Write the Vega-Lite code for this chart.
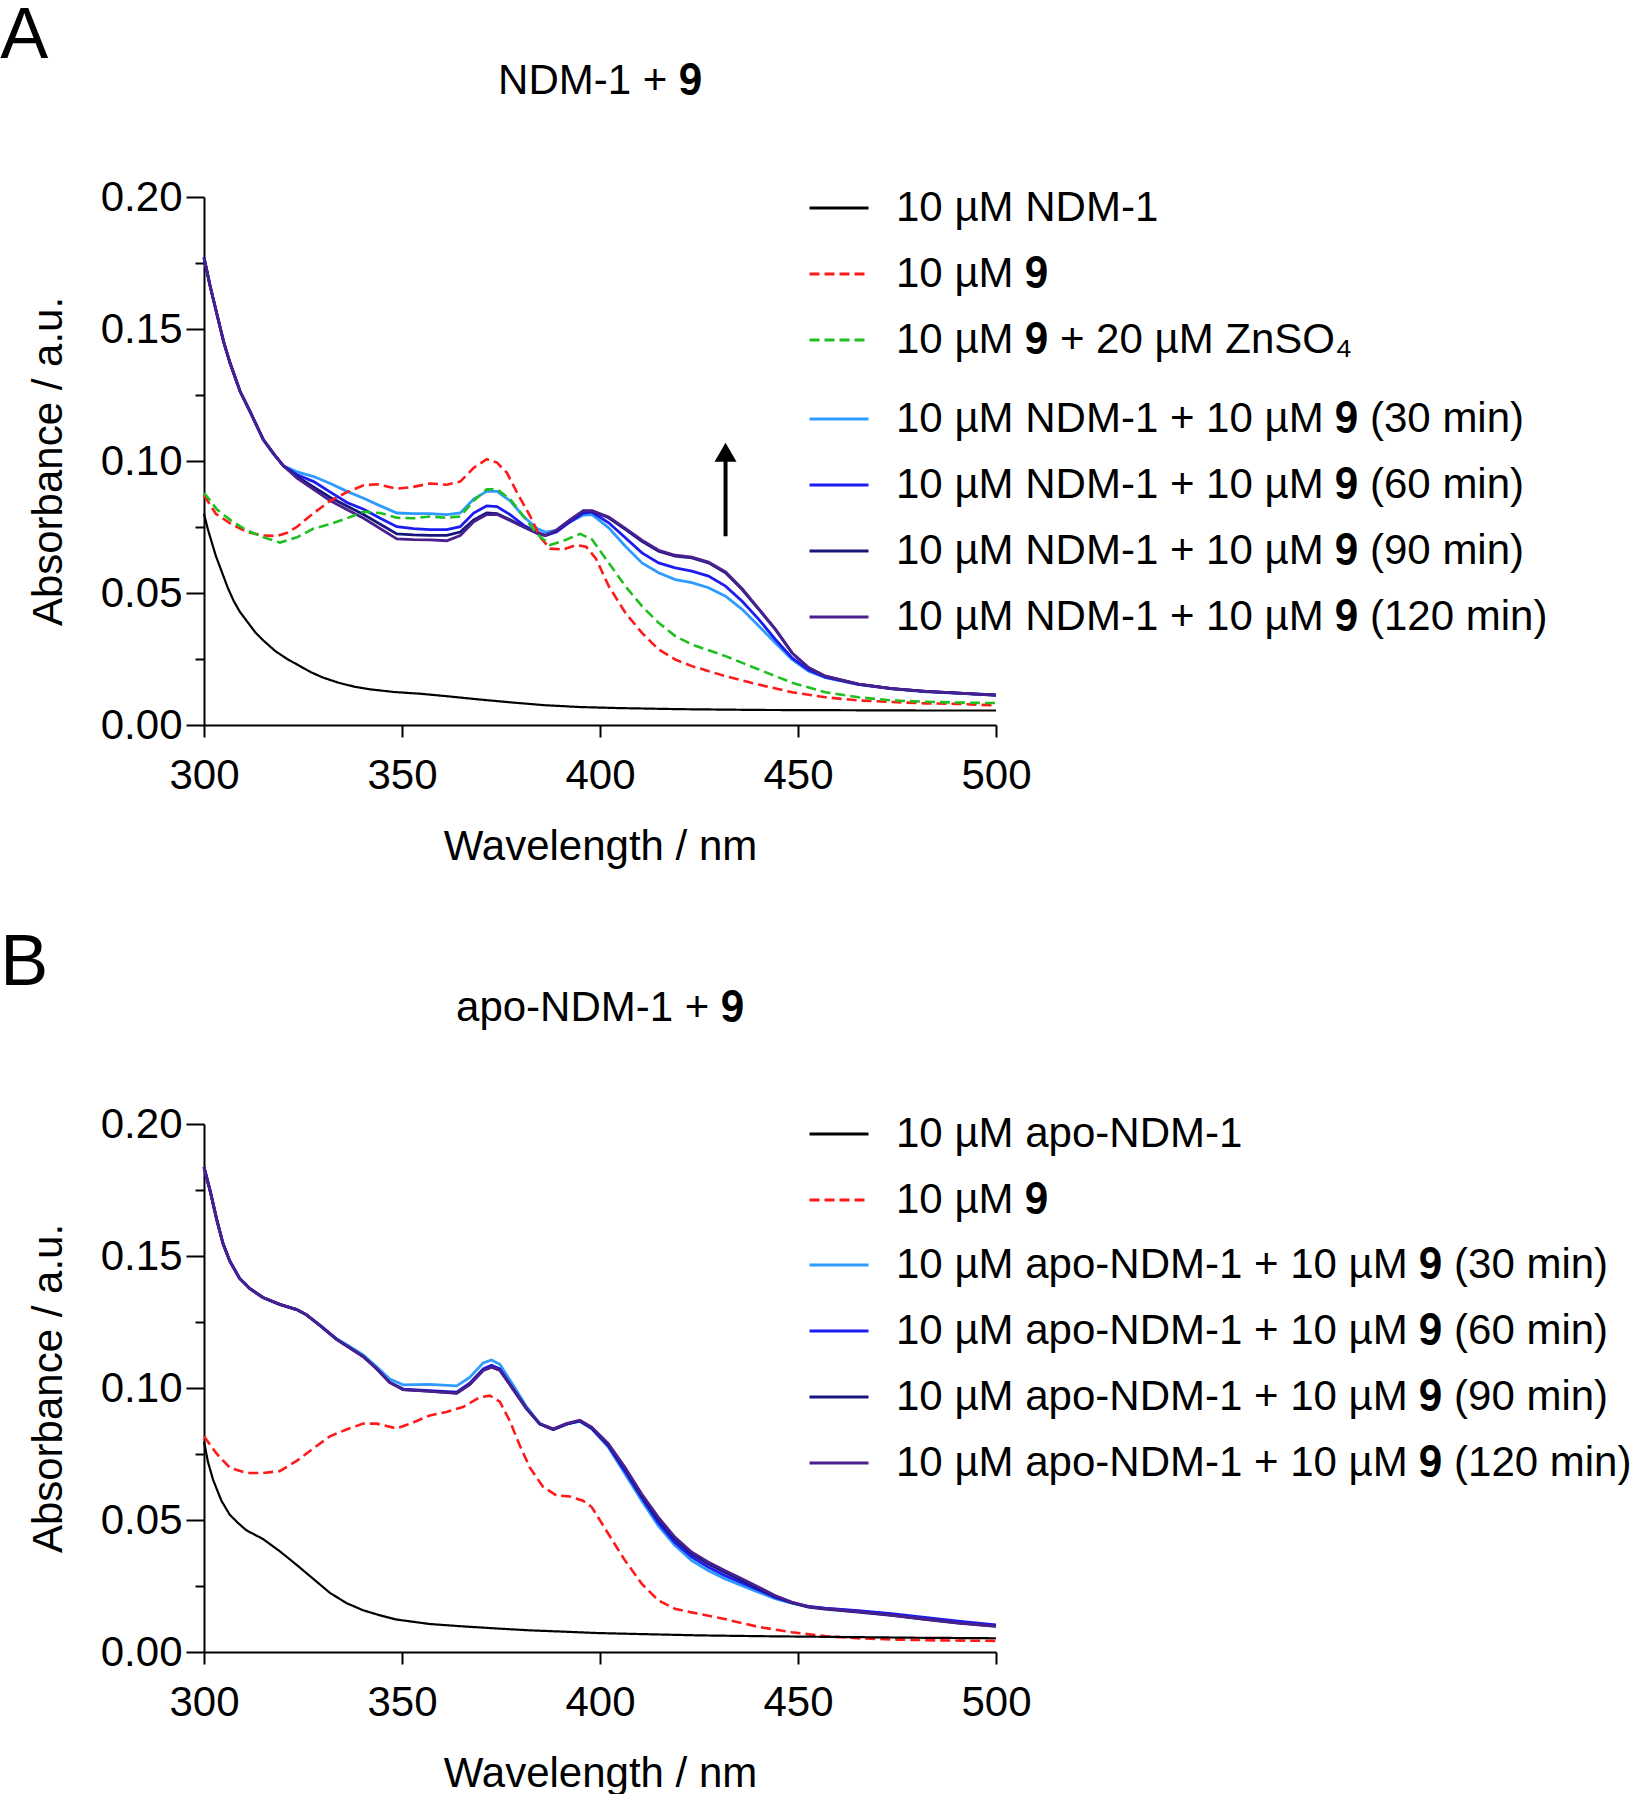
{
"$schema": "https://vega.github.io/schema/vega-lite/v6.json",
"padding": 0,
"background": "white",
"config": {
  "font": "Liberation Sans",
  "view": {"stroke": null},
  "axis": {"domainColor": "black", "domainWidth": 2, "tickColor": "black", "tickWidth": 2, "labelColor": "black", "labelFontSize": 42, "titleFontSize": 42, "titleFontWeight": "normal", "titleColor": "black", "grid": false, "labelFont": "Liberation Sans", "titleFont": "Liberation Sans", "labelFlush": false, "labelOverlap": false},
  "title": {"fontSize": 42, "fontWeight": "normal", "color": "black", "font": "Liberation Sans"},
  "legend": {"symbolType": "stroke", "symbolSize": 3481, "symbolStrokeWidth": 3, "labelFontSize": 42, "labelFont": "Liberation Sans", "labelColor": "black", "rowPadding": 14, "labelOffset": 26, "padding": 0, "labelLimit": 2000},
  "line": {"strokeWidth": 2.8}
},
"spacing": 60,
"resolve": {"scale": {"x": "independent", "y": "independent", "color": "independent", "stroke": "independent", "strokeDash": "independent"}},
"vconcat": [
{
  "title": {"text": "A", "anchor": "start", "fontSize": 72, "frame": "bounds", "dx": -27, "offset": -13},
  "resolve": {"scale": {"color": "independent", "stroke": "independent", "strokeDash": "independent"}},
  "vconcat": [
  {
    "title": {"text": "NDM-1 + 𝟗", "anchor": "middle", "frame": "group", "offset": 73},
    "width": 792, "height": 528,
    "encoding": {"x": {"field": "w", "type": "quantitative", "scale": {"domain": [300, 500], "nice": false, "zero": false}, "axis": {"values": [300, 350, 400, 450, 500], "title": "Wavelength / nm", "tickSize": 12, "labelPadding": 18, "titlePadding": 30}}},
    "resolve": {"axis": {"y": "independent"}},
    "layer": [
    {
      "encoding": {"y": {"field": "a", "type": "quantitative", "scale": {"domain": [0, 0.2], "nice": false, "zero": false}, "axis": {"values": [0, 0.05, 0.1, 0.15, 0.2], "format": ".2f", "title": "Absorbance / a.u.", "tickSize": 18, "labelPadding": 4, "titlePadding": 30}}},
      "layer": [
      {
        "data": {"values": [{"w":300,"a":0.1771},{"w":301.6,"a":0.1659},{"w":303.3,"a":0.1554},{"w":305,"a":0.1449},{"w":306.6,"a":0.137},{"w":309.1,"a":0.1264},{"w":311.7,"a":0.1185},{"w":315,"a":0.108},{"w":317.6,"a":0.1027},{"w":320.1,"a":0.0981},{"w":323.5,"a":0.0959},{"w":327.7,"a":0.0941},{"w":331.9,"a":0.0915},{"w":336.1,"a":0.0885},{"w":340.3,"a":0.0859},{"w":344.5,"a":0.083},{"w":348.7,"a":0.0803},{"w":352.9,"a":0.0801},{"w":357.1,"a":0.0801},{"w":361.3,"a":0.0797},{"w":364.7,"a":0.0803},{"w":368.1,"a":0.0856},{"w":371.4,"a":0.0885},{"w":374,"a":0.0885},{"w":377.3,"a":0.0849},{"w":380.7,"a":0.079},{"w":384.1,"a":0.0744},{"w":386.2,"a":0.0731},{"w":389,"a":0.0737},{"w":392.5,"a":0.077},{"w":395.8,"a":0.0795},{"w":398,"a":0.0797},{"w":402.2,"a":0.0747},{"w":406.4,"a":0.0677},{"w":410.6,"a":0.0614},{"w":414.8,"a":0.0577},{"w":419,"a":0.0551},{"w":423.2,"a":0.0539},{"w":427.4,"a":0.052},{"w":431.7,"a":0.0488},{"w":435.9,"a":0.0438},{"w":440.1,"a":0.0375},{"w":444.3,"a":0.0311},{"w":448.5,"a":0.0248},{"w":452.7,"a":0.0204},{"w":456.9,"a":0.0179},{"w":465.3,"a":0.0153},{"w":473.7,"a":0.0137},{"w":482.2,"a":0.0126},{"w":490.6,"a":0.012},{"w":500,"a":0.0113}]},
        "mark": {"type": "line", "strokeWidth": 2.8},
        "encoding": {"stroke": {"datum": "10 µM NDM-1 + 10 µM 𝟗 (30 min)", "scale": {"domain": ["10 µM NDM-1 + 10 µM 𝟗 (30 min)", "10 µM NDM-1 + 10 µM 𝟗 (60 min)", "10 µM NDM-1 + 10 µM 𝟗 (90 min)", "10 µM NDM-1 + 10 µM 𝟗 (120 min)"], "range": ["#2f9bff", "#1c1cf2", "#16167d", "#4a208f"]}, "legend": {"orient": "none", "legendX": 604, "legendY": 191, "title": null}}}
      },
      {
        "data": {"values": [{"w":300,"a":0.1771},{"w":301.6,"a":0.1659},{"w":303.3,"a":0.1554},{"w":305,"a":0.1449},{"w":306.6,"a":0.137},{"w":309.1,"a":0.1264},{"w":311.7,"a":0.1185},{"w":315,"a":0.108},{"w":317.6,"a":0.1027},{"w":320.1,"a":0.0981},{"w":323.5,"a":0.0948},{"w":327.7,"a":0.0922},{"w":331.9,"a":0.0882},{"w":336.1,"a":0.0843},{"w":340.3,"a":0.0817},{"w":344.5,"a":0.0783},{"w":348.7,"a":0.0751},{"w":352.9,"a":0.0744},{"w":357.1,"a":0.074},{"w":361.3,"a":0.074},{"w":364.7,"a":0.0751},{"w":368.1,"a":0.0803},{"w":371.4,"a":0.083},{"w":374,"a":0.0827},{"w":377.3,"a":0.0797},{"w":380.7,"a":0.0757},{"w":384.1,"a":0.0731},{"w":386.2,"a":0.0718},{"w":389,"a":0.0731},{"w":392.5,"a":0.077},{"w":395.8,"a":0.0803},{"w":398,"a":0.0806},{"w":402.2,"a":0.0766},{"w":406.4,"a":0.0709},{"w":410.6,"a":0.0652},{"w":414.8,"a":0.0614},{"w":419,"a":0.0595},{"w":423.2,"a":0.0583},{"w":427.4,"a":0.0564},{"w":431.7,"a":0.0526},{"w":435.9,"a":0.0469},{"w":440.1,"a":0.04},{"w":444.3,"a":0.0324},{"w":448.5,"a":0.0254},{"w":452.7,"a":0.0208},{"w":456.9,"a":0.0181},{"w":465.3,"a":0.0154},{"w":473.7,"a":0.0138},{"w":482.2,"a":0.0127},{"w":490.6,"a":0.0121},{"w":500,"a":0.0114}]},
        "mark": {"type": "line", "strokeWidth": 2.8},
        "encoding": {"stroke": {"datum": "10 µM NDM-1 + 10 µM 𝟗 (60 min)"}}
      },
      {
        "data": {"values": [{"w":300,"a":0.1771},{"w":301.6,"a":0.1659},{"w":303.3,"a":0.1554},{"w":305,"a":0.1449},{"w":306.6,"a":0.137},{"w":309.1,"a":0.1264},{"w":311.7,"a":0.1185},{"w":315,"a":0.108},{"w":317.6,"a":0.1027},{"w":320.1,"a":0.0981},{"w":323.5,"a":0.0941},{"w":331.9,"a":0.0862},{"w":340.3,"a":0.0797},{"w":348.7,"a":0.0724},{"w":352.9,"a":0.072},{"w":357.1,"a":0.0718},{"w":361.3,"a":0.0718},{"w":364.7,"a":0.0731},{"w":368.1,"a":0.0777},{"w":371.4,"a":0.0803},{"w":374,"a":0.0801},{"w":377.3,"a":0.0777},{"w":380.7,"a":0.0751},{"w":384.1,"a":0.0727},{"w":386.2,"a":0.0718},{"w":389,"a":0.0737},{"w":392.5,"a":0.0777},{"w":395.8,"a":0.081},{"w":398,"a":0.081},{"w":402.2,"a":0.0785},{"w":406.4,"a":0.0741},{"w":410.6,"a":0.0696},{"w":414.8,"a":0.0658},{"w":419,"a":0.064},{"w":423.2,"a":0.0633},{"w":427.4,"a":0.0614},{"w":431.7,"a":0.0577},{"w":435.9,"a":0.0513},{"w":440.1,"a":0.0438},{"w":444.3,"a":0.0362},{"w":448.5,"a":0.0273},{"w":452.7,"a":0.0217},{"w":456.9,"a":0.0185},{"w":465.3,"a":0.0155},{"w":473.7,"a":0.0138},{"w":482.2,"a":0.0127},{"w":490.6,"a":0.0121},{"w":500,"a":0.0113}]},
        "mark": {"type": "line", "strokeWidth": 2.8},
        "encoding": {"stroke": {"datum": "10 µM NDM-1 + 10 µM 𝟗 (90 min)"}}
      },
      {
        "data": {"values": [{"w":300,"a":0.1771},{"w":301.6,"a":0.1659},{"w":303.3,"a":0.1554},{"w":305,"a":0.1449},{"w":306.6,"a":0.137},{"w":309.1,"a":0.1264},{"w":311.7,"a":0.1185},{"w":315,"a":0.108},{"w":317.6,"a":0.1027},{"w":320.1,"a":0.0981},{"w":323.5,"a":0.0935},{"w":331.9,"a":0.0849},{"w":340.3,"a":0.0783},{"w":348.7,"a":0.0705},{"w":352.9,"a":0.0702},{"w":357.1,"a":0.0701},{"w":361.3,"a":0.0698},{"w":364.7,"a":0.0718},{"w":368.1,"a":0.077},{"w":371.4,"a":0.0797},{"w":374,"a":0.0797},{"w":377.3,"a":0.0775},{"w":380.7,"a":0.075},{"w":384.1,"a":0.0727},{"w":386.2,"a":0.0718},{"w":389,"a":0.0738},{"w":392.5,"a":0.0778},{"w":395.8,"a":0.0812},{"w":398,"a":0.0812},{"w":402.2,"a":0.0788},{"w":406.4,"a":0.0745},{"w":410.6,"a":0.07},{"w":414.8,"a":0.0662},{"w":419,"a":0.0643},{"w":423.2,"a":0.0636},{"w":427.4,"a":0.0617},{"w":431.7,"a":0.058},{"w":435.9,"a":0.0516},{"w":440.1,"a":0.044},{"w":444.3,"a":0.0362},{"w":448.5,"a":0.0273},{"w":452.7,"a":0.0217},{"w":456.9,"a":0.0185},{"w":465.3,"a":0.0155},{"w":473.7,"a":0.0138},{"w":482.2,"a":0.0127},{"w":490.6,"a":0.0121},{"w":500,"a":0.0112}]},
        "mark": {"type": "line", "strokeWidth": 2.8},
        "encoding": {"stroke": {"datum": "10 µM NDM-1 + 10 µM 𝟗 (120 min)"}}
      },
      {
        "data": {"values": [{"w":300,"a":0.087},{"w":303,"a":0.08},{"w":306.5,"a":0.0765},{"w":310.8,"a":0.0731},{"w":315,"a":0.0718},{"w":318.4,"a":0.0716},{"w":321,"a":0.0728},{"w":323.5,"a":0.0751},{"w":327.7,"a":0.0803},{"w":331.9,"a":0.0849},{"w":336.1,"a":0.0882},{"w":340.3,"a":0.0908},{"w":343.7,"a":0.0912},{"w":348.7,"a":0.0895},{"w":352.9,"a":0.0902},{"w":357.1,"a":0.0915},{"w":361.3,"a":0.091},{"w":364.7,"a":0.0922},{"w":368.1,"a":0.0974},{"w":371.4,"a":0.1007},{"w":374,"a":0.0994},{"w":376.5,"a":0.0955},{"w":379,"a":0.0882},{"w":382.4,"a":0.079},{"w":384.9,"a":0.0711},{"w":387.4,"a":0.0668},{"w":390.8,"a":0.0665},{"w":394,"a":0.0682},{"w":396.5,"a":0.0675},{"w":399,"a":0.063},{"w":402.2,"a":0.0526},{"w":406.4,"a":0.0425},{"w":410.6,"a":0.0349},{"w":414.8,"a":0.0286},{"w":419,"a":0.0248},{"w":423.2,"a":0.0223},{"w":431.7,"a":0.0185},{"w":440.1,"a":0.0153},{"w":448.5,"a":0.0124},{"w":456.9,"a":0.0105},{"w":465.3,"a":0.0093},{"w":473.7,"a":0.0087},{"w":482.2,"a":0.0082},{"w":490.6,"a":0.008},{"w":500,"a":0.0074}]},
        "mark": {"type": "line", "strokeWidth": 2.6},
        "encoding": {
          "color": {"datum": "10 µM 𝟗", "scale": {"domain": ["10 µM NDM-1", "10 µM 𝟗", "10 µM 𝟗 + 20 µM ZnSO₄"], "range": ["#000000", "#ff1a1a", "#1fbf1f"]}, "legend": {"orient": "none", "legendX": 604, "legendY": -20, "title": null}},
          "strokeDash": {"datum": "10 µM 𝟗", "scale": {"domain": ["10 µM NDM-1", "10 µM 𝟗", "10 µM 𝟗 + 20 µM ZnSO₄"], "range": [[1, 0], [10, 5], [10, 5]]}, "legend": {"orient": "none", "legendX": 604, "legendY": -20, "title": null}}
        }
      },
      {
        "data": {"values": [{"w":300,"a":0.088},{"w":303.3,"a":0.0816},{"w":306.6,"a":0.0777},{"w":310.8,"a":0.0737},{"w":315,"a":0.0711},{"w":319.2,"a":0.0691},{"w":323.5,"a":0.0711},{"w":327.7,"a":0.0744},{"w":331.9,"a":0.0761},{"w":336.1,"a":0.0783},{"w":340.3,"a":0.0808},{"w":344.5,"a":0.0803},{"w":348.7,"a":0.0785},{"w":353,"a":0.0783},{"w":357.1,"a":0.079},{"w":361,"a":0.0785},{"w":364.7,"a":0.079},{"w":368.1,"a":0.0849},{"w":371.4,"a":0.0893},{"w":374,"a":0.0893},{"w":377.3,"a":0.0856},{"w":380.7,"a":0.079},{"w":384.1,"a":0.0724},{"w":387.4,"a":0.0682},{"w":390.8,"a":0.0698},{"w":395,"a":0.0724},{"w":398,"a":0.0703},{"w":402.2,"a":0.0614},{"w":406.4,"a":0.0526},{"w":410.6,"a":0.045},{"w":414.8,"a":0.0387},{"w":419,"a":0.0337},{"w":423.2,"a":0.0305},{"w":431.7,"a":0.0261},{"w":440.1,"a":0.021},{"w":448.5,"a":0.016},{"w":456.9,"a":0.0124},{"w":465.3,"a":0.0105},{"w":473.7,"a":0.0093},{"w":482.2,"a":0.0088},{"w":490.6,"a":0.0085},{"w":500,"a":0.0083}]},
        "mark": {"type": "line", "strokeWidth": 2.6},
        "encoding": {
          "color": {"datum": "10 µM 𝟗 + 20 µM ZnSO₄"},
          "strokeDash": {"datum": "10 µM 𝟗 + 20 µM ZnSO₄"}
        }
      },
      {
        "data": {"values": [{"w": 431.7, "a": 0.0715, "a2": 0.1}]},
        "mark": {"type": "rule", "strokeWidth": 4, "color": "black"},
        "encoding": {"y2": {"field": "a2"}}
      },
      {
        "data": {"values": [{"w": 431.7, "a": 0.1031}]},
        "mark": {"type": "point", "shape": "M0,-1L1.1,0.9L-1.1,0.9Z", "size": 400, "filled": true, "color": "black", "opacity": 1}
      }
      ]
    },
    {
      "data": {"values": [{"w":300,"a":0.08},{"w":301,"a":0.074},{"w":302,"a":0.069},{"w":303,"a":0.064},{"w":304.5,"a":0.058},{"w":306,"a":0.052},{"w":307.5,"a":0.047},{"w":309,"a":0.043},{"w":311,"a":0.039},{"w":313,"a":0.035},{"w":315,"a":0.032},{"w":318,"a":0.028},{"w":321,"a":0.025},{"w":324,"a":0.0225},{"w":327,"a":0.02},{"w":330,"a":0.018},{"w":334,"a":0.016},{"w":338,"a":0.0145},{"w":342,"a":0.0135},{"w":348,"a":0.0125},{"w":355,"a":0.0118},{"w":362,"a":0.0108},{"w":370,"a":0.0096},{"w":378,"a":0.0085},{"w":386,"a":0.0075},{"w":395,"a":0.0068},{"w":405,"a":0.0064},{"w":420,"a":0.006},{"w":440,"a":0.0057},{"w":460,"a":0.0056},{"w":480,"a":0.0055},{"w":500,"a":0.0055}]},
      "mark": {"type": "line", "strokeWidth": 2.2},
      "encoding": {
        "y": {"field": "a", "type": "quantitative", "axis": {"orient": "left", "values": [0.025, 0.075, 0.125, 0.175], "labels": false, "tickSize": 9, "domain": false, "title": null}},
        "color": {"datum": "10 µM NDM-1"},
        "strokeDash": {"datum": "10 µM NDM-1"}
      }
    }
    ]
  }
  ]
},
{
  "title": {"text": "B", "anchor": "start", "fontSize": 72, "frame": "bounds", "dx": -27, "offset": -13},
  "resolve": {"scale": {"color": "independent", "stroke": "independent", "strokeDash": "independent"}},
  "vconcat": [
  {
    "title": {"text": "apo-NDM-1 + 𝟗", "anchor": "middle", "frame": "group", "offset": 73},
    "width": 792, "height": 528,
    "encoding": {"x": {"field": "w", "type": "quantitative", "scale": {"domain": [300, 500], "nice": false, "zero": false}, "axis": {"values": [300, 350, 400, 450, 500], "title": "Wavelength / nm", "tickSize": 12, "labelPadding": 18, "titlePadding": 30}}},
    "resolve": {"axis": {"y": "independent"}},
    "layer": [
    {
      "encoding": {"y": {"field": "a", "type": "quantitative", "scale": {"domain": [0, 0.2], "nice": false, "zero": false}, "axis": {"values": [0, 0.05, 0.1, 0.15, 0.2], "format": ".2f", "title": "Absorbance / a.u.", "tickSize": 18, "labelPadding": 4, "titlePadding": 30}}},
      "layer": [
      {
        "data": {"values": [{"w":300,"a":0.1837},{"w":301.6,"a":0.1744},{"w":303.2,"a":0.1639},{"w":304.8,"a":0.1547},{"w":306.5,"a":0.1481},{"w":309,"a":0.1415},{"w":311.6,"a":0.1376},{"w":314.9,"a":0.1343},{"w":319.1,"a":0.1317},{"w":323.4,"a":0.1297},{"w":325.9,"a":0.1277},{"w":329.2,"a":0.1238},{"w":333.4,"a":0.1188},{"w":336.8,"a":0.1157},{"w":340.2,"a":0.1125},{"w":343.6,"a":0.108},{"w":346.9,"a":0.1034},{"w":350.3,"a":0.1012},{"w":357,"a":0.1014},{"w":363.8,"a":0.1008},{"w":367.1,"a":0.104},{"w":370.5,"a":0.1095},{"w":372.6,"a":0.1106},{"w":374.7,"a":0.109},{"w":378.1,"a":0.101},{"w":381.4,"a":0.093},{"w":384.8,"a":0.0865},{"w":388.2,"a":0.0843},{"w":391.5,"a":0.0863},{"w":394.9,"a":0.0874},{"w":397.9,"a":0.0845},{"w":402.1,"a":0.0776},{"w":406.3,"a":0.0675},{"w":410.5,"a":0.0574},{"w":414.7,"a":0.0479},{"w":418.9,"a":0.0404},{"w":423.1,"a":0.0347},{"w":427.3,"a":0.0309},{"w":431.5,"a":0.0278},{"w":435.7,"a":0.0252},{"w":440,"a":0.0227},{"w":444.2,"a":0.0202},{"w":448.4,"a":0.0185},{"w":452.6,"a":0.0172},{"w":456.8,"a":0.0165},{"w":465.2,"a":0.0155},{"w":473.6,"a":0.0142},{"w":482,"a":0.0128},{"w":490.4,"a":0.0113},{"w":500,"a":0.01}]},
        "mark": {"type": "line", "strokeWidth": 2.8},
        "encoding": {"stroke": {"datum": "10 µM apo-NDM-1 + 10 µM 𝟗 (30 min)", "scale": {"domain": ["10 µM apo-NDM-1 + 10 µM 𝟗 (30 min)", "10 µM apo-NDM-1 + 10 µM 𝟗 (60 min)", "10 µM apo-NDM-1 + 10 µM 𝟗 (90 min)", "10 µM apo-NDM-1 + 10 µM 𝟗 (120 min)"], "range": ["#2f9bff", "#1c1cf2", "#16167d", "#4a208f"]}, "legend": {"orient": "none", "legendX": 604, "legendY": 110, "title": null}}}
      },
      {
        "data": {"values": [{"w":300,"a":0.1837},{"w":301.6,"a":0.1744},{"w":303.2,"a":0.1639},{"w":304.8,"a":0.1547},{"w":306.5,"a":0.1481},{"w":309,"a":0.1415},{"w":311.6,"a":0.1376},{"w":314.9,"a":0.1343},{"w":319.1,"a":0.1317},{"w":323.4,"a":0.1297},{"w":325.9,"a":0.1277},{"w":329.2,"a":0.1238},{"w":333.4,"a":0.1185},{"w":336.8,"a":0.1152},{"w":340.2,"a":0.1119},{"w":343.6,"a":0.1073},{"w":346.9,"a":0.1021},{"w":350.3,"a":0.0996},{"w":357,"a":0.099},{"w":363.8,"a":0.0984},{"w":367.1,"a":0.1018},{"w":370.5,"a":0.1072},{"w":372.6,"a":0.1086},{"w":374.7,"a":0.1072},{"w":378.1,"a":0.0997},{"w":381.4,"a":0.0924},{"w":384.8,"a":0.0864},{"w":388.2,"a":0.0843},{"w":391.5,"a":0.0863},{"w":394.9,"a":0.0875},{"w":397.9,"a":0.0847},{"w":402.1,"a":0.078},{"w":406.3,"a":0.0685},{"w":410.5,"a":0.0585},{"w":414.7,"a":0.049},{"w":418.9,"a":0.0415},{"w":423.1,"a":0.036},{"w":427.3,"a":0.0322},{"w":431.5,"a":0.029},{"w":435.7,"a":0.0262},{"w":440,"a":0.0235},{"w":444.2,"a":0.0207},{"w":448.4,"a":0.0187},{"w":452.6,"a":0.0173},{"w":456.8,"a":0.0166},{"w":465.2,"a":0.0157},{"w":473.6,"a":0.0145},{"w":482,"a":0.0131},{"w":490.4,"a":0.0117},{"w":500,"a":0.0103}]},
        "mark": {"type": "line", "strokeWidth": 2.8},
        "encoding": {"stroke": {"datum": "10 µM apo-NDM-1 + 10 µM 𝟗 (60 min)"}}
      },
      {
        "data": {"values": [{"w":300,"a":0.1837},{"w":301.6,"a":0.1744},{"w":303.2,"a":0.1639},{"w":304.8,"a":0.1547},{"w":306.5,"a":0.1481},{"w":309,"a":0.1415},{"w":311.6,"a":0.1376},{"w":314.9,"a":0.1343},{"w":319.1,"a":0.1317},{"w":323.4,"a":0.1297},{"w":325.9,"a":0.1277},{"w":329.2,"a":0.1238},{"w":333.4,"a":0.1185},{"w":336.8,"a":0.1152},{"w":340.2,"a":0.1119},{"w":343.6,"a":0.1073},{"w":346.9,"a":0.1021},{"w":350.3,"a":0.0994},{"w":357,"a":0.0988},{"w":363.8,"a":0.0981},{"w":367.1,"a":0.1014},{"w":370.5,"a":0.1067},{"w":372.6,"a":0.108},{"w":374.7,"a":0.1067},{"w":378.1,"a":0.0994},{"w":381.4,"a":0.0922},{"w":384.8,"a":0.0863},{"w":388.2,"a":0.0843},{"w":391.5,"a":0.0863},{"w":394.9,"a":0.0876},{"w":397.9,"a":0.0849},{"w":402.1,"a":0.0786},{"w":406.3,"a":0.0695},{"w":410.5,"a":0.0593},{"w":414.7,"a":0.0503},{"w":418.9,"a":0.0428},{"w":423.1,"a":0.0372},{"w":427.3,"a":0.0334},{"w":431.5,"a":0.0302},{"w":435.7,"a":0.0272},{"w":440,"a":0.0241},{"w":444.2,"a":0.0211},{"w":448.4,"a":0.0187},{"w":452.6,"a":0.017},{"w":456.8,"a":0.0162},{"w":465.2,"a":0.0151},{"w":473.6,"a":0.0139},{"w":482,"a":0.0124},{"w":490.4,"a":0.0109},{"w":500,"a":0.0097}]},
        "mark": {"type": "line", "strokeWidth": 2.8},
        "encoding": {"stroke": {"datum": "10 µM apo-NDM-1 + 10 µM 𝟗 (90 min)"}}
      },
      {
        "data": {"values": [{"w":300,"a":0.1837},{"w":301.6,"a":0.1744},{"w":303.2,"a":0.1639},{"w":304.8,"a":0.1547},{"w":306.5,"a":0.1481},{"w":309,"a":0.1415},{"w":311.6,"a":0.1376},{"w":314.9,"a":0.1343},{"w":319.1,"a":0.1317},{"w":323.4,"a":0.1297},{"w":325.9,"a":0.1277},{"w":329.2,"a":0.1238},{"w":333.4,"a":0.1185},{"w":336.8,"a":0.1152},{"w":340.2,"a":0.1119},{"w":343.6,"a":0.1073},{"w":346.9,"a":0.1021},{"w":350.3,"a":0.0994},{"w":357,"a":0.0987},{"w":363.8,"a":0.098},{"w":367.1,"a":0.1013},{"w":370.5,"a":0.1066},{"w":372.6,"a":0.1079},{"w":374.7,"a":0.1067},{"w":378.1,"a":0.0995},{"w":381.4,"a":0.0923},{"w":384.8,"a":0.0864},{"w":388.2,"a":0.0845},{"w":391.5,"a":0.0865},{"w":394.9,"a":0.0878},{"w":397.9,"a":0.0852},{"w":402.1,"a":0.0789},{"w":406.3,"a":0.07},{"w":410.5,"a":0.0599},{"w":414.7,"a":0.0511},{"w":418.9,"a":0.0435},{"w":423.1,"a":0.0379},{"w":427.3,"a":0.0341},{"w":431.5,"a":0.0309},{"w":435.7,"a":0.0278},{"w":440,"a":0.0246},{"w":444.2,"a":0.0214},{"w":448.4,"a":0.0189},{"w":452.6,"a":0.0172},{"w":456.8,"a":0.0164},{"w":465.2,"a":0.0153},{"w":473.6,"a":0.014},{"w":482,"a":0.0125},{"w":490.4,"a":0.011},{"w":500,"a":0.0098}]},
        "mark": {"type": "line", "strokeWidth": 2.8},
        "encoding": {"stroke": {"datum": "10 µM apo-NDM-1 + 10 µM 𝟗 (120 min)"}}
      },
      {
        "data": {"values": [{"w":300,"a":0.0817},{"w":303.2,"a":0.0751},{"w":306.5,"a":0.0698},{"w":310.7,"a":0.0678},{"w":314.9,"a":0.0678},{"w":319.1,"a":0.0685},{"w":323.4,"a":0.0724},{"w":327.6,"a":0.0771},{"w":331.8,"a":0.0817},{"w":336,"a":0.0843},{"w":340.2,"a":0.0865},{"w":343.6,"a":0.0865},{"w":348.6,"a":0.0847},{"w":352.8,"a":0.0869},{"w":357,"a":0.0896},{"w":361.2,"a":0.0909},{"w":365.4,"a":0.0928},{"w":369.6,"a":0.0965},{"w":372.2,"a":0.0971},{"w":374.7,"a":0.0948},{"w":377.2,"a":0.0876},{"w":379.7,"a":0.0784},{"w":382.3,"a":0.0698},{"w":385.6,"a":0.0626},{"w":389,"a":0.0593},{"w":392.4,"a":0.0589},{"w":395.7,"a":0.0573},{"w":397.9,"a":0.0549},{"w":402.1,"a":0.0448},{"w":406.3,"a":0.0347},{"w":410.5,"a":0.0259},{"w":414.7,"a":0.0196},{"w":418.9,"a":0.0164},{"w":423.1,"a":0.015},{"w":431.5,"a":0.0125},{"w":440,"a":0.0095},{"w":448.4,"a":0.0075},{"w":456.8,"a":0.006},{"w":465,"a":0.0052},{"w":475,"a":0.0047},{"w":485,"a":0.0044},{"w":500,"a":0.0042}]},
        "mark": {"type": "line", "strokeWidth": 2.6},
        "encoding": {
          "color": {"datum": "10 µM 𝟗", "scale": {"domain": ["10 µM apo-NDM-1", "10 µM 𝟗"], "range": ["#000000", "#ff1a1a"]}, "legend": {"orient": "none", "legendX": 604, "legendY": -21, "title": null}},
          "strokeDash": {"datum": "10 µM 𝟗", "scale": {"domain": ["10 µM apo-NDM-1", "10 µM 𝟗"], "range": [[1, 0], [10, 5]]}, "legend": {"orient": "none", "legendX": 604, "legendY": -21, "title": null}}
        }
      }
      ]
    },
    {
      "data": {"values": [{"w":300,"a":0.0797},{"w":301,"a":0.072},{"w":302.3,"a":0.0652},{"w":304.4,"a":0.0573},{"w":306.5,"a":0.052},{"w":308.5,"a":0.049},{"w":310.7,"a":0.0461},{"w":314.9,"a":0.0428},{"w":319.1,"a":0.0382},{"w":323.4,"a":0.033},{"w":327.6,"a":0.0277},{"w":331.8,"a":0.0224},{"w":336,"a":0.0185},{"w":340.2,"a":0.0158},{"w":344.4,"a":0.0139},{"w":348.6,"a":0.0123},{"w":357,"a":0.0106},{"w":365.4,"a":0.0097},{"w":374,"a":0.0089},{"w":382.3,"a":0.0082},{"w":391,"a":0.0077},{"w":399,"a":0.0072},{"w":410,"a":0.0068},{"w":425,"a":0.0063},{"w":440,"a":0.006},{"w":460,"a":0.0057},{"w":480,"a":0.0054},{"w":500,"a":0.0052}]},
      "mark": {"type": "line", "strokeWidth": 2.2},
      "encoding": {
        "y": {"field": "a", "type": "quantitative", "axis": {"orient": "left", "values": [0.025, 0.075, 0.125, 0.175], "labels": false, "tickSize": 9, "domain": false, "title": null}},
        "color": {"datum": "10 µM apo-NDM-1"},
        "strokeDash": {"datum": "10 µM apo-NDM-1"}
      }
    }
    ]
  }
  ]
}
]
}
